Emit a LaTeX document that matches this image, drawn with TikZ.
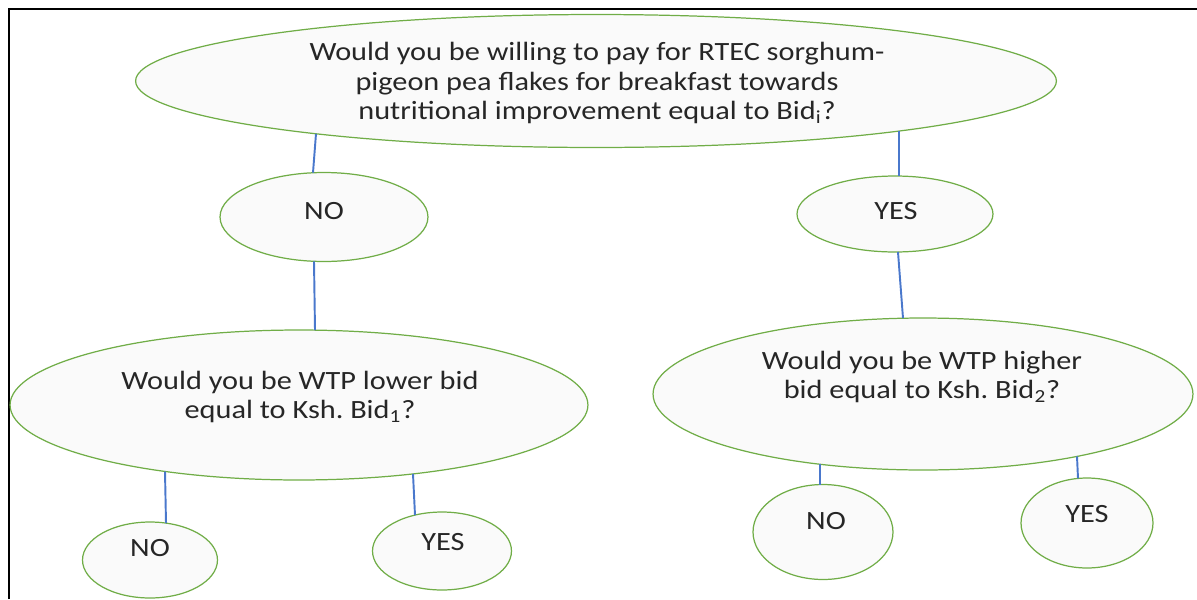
\documentclass[tikz,border=0pt]{standalone}
\usepackage{fontspec}
\setmainfont{Carlito}[FakeStretch=1.15]
\usetikzlibrary{shapes.geometric,arrows.meta,positioning,calc}
\definecolor{bubblegreen}{HTML}{70AD47}
\definecolor{linkblue}{HTML}{4A78CC}
\definecolor{bubblefill}{HTML}{FAFAFA}
\definecolor{inktext}{HTML}{262626}

\begin{document}
\begin{tikzpicture}[x=0.02cm, y=-0.02cm,
    bubble/.style={ellipse, draw=bubblegreen, fill=bubblefill, line width=0.7pt, inner sep=0pt},
    link/.style={draw=linkblue, line width=1.1pt},
    qtext/.style={font=\fontsize{15}{17}\selectfont, text=inktext, align=center, inner sep=0pt},
    frame/.style={draw=black, line width=1.6pt}]
  \useasboundingbox (0,0) rectangle (1197,599);

  % Frame
  \coordinate (frameBL) at (9,599);
  \coordinate (frameTL) at (9,9);
  \coordinate (frameTR) at (1197,9);
  \draw[frame] (frameBL) -- (frameTL) -- (frameTR);

  % First bid question
  \node[bubble, minimum width=18.42cm, minimum height=2.66cm] (top) at (596,81) {};
  \node[qtext] (topq) at (597,83) {Would you be willing to pay for RTEC sorghum-\\
    pigeon pea flakes for breakfast towards\\
    nutritional improvement equal to Bid\textsubscript{i}?};

  % First answers
  \node[bubble, minimum width=4.16cm, minimum height=1.78cm] (no1) at (324,217) {};
  \node[qtext] (no1t) at (324,211) {NO};
  \node[bubble, minimum width=3.92cm, minimum height=1.52cm] (yes1) at (895,214) {};
  \node[qtext] (yes1t) at (896,211) {YES};

  % Follow-up questions
  \node[bubble, minimum width=11.56cm, minimum height=3.0cm] (low) at (299,405) {};
  \node[qtext] (lowq) at (300,397) {Would you be WTP lower bid\\ equal to Ksh.\ Bid\textsubscript{1}?};
  \node[bubble, minimum width=10.8cm, minimum height=3.04cm] (high) at (923,394) {};
  \node[qtext] (highq) at (922,377) {Would you be WTP higher\\ bid equal to Ksh.\ Bid\textsubscript{2}?};

  % Final answers
  \node[bubble, minimum width=2.7cm, minimum height=1.52cm] (no2) at (150,560) {};
  \node[qtext] (no2t) at (150,548) {NO};
  \node[bubble, minimum width=2.78cm, minimum height=1.56cm] (yes2) at (442,551) {};
  \node[qtext] (yes2t) at (443,542) {YES};
  \node[bubble, minimum width=2.8cm, minimum height=1.9cm] (no3) at (823,532) {};
  \node[qtext] (no3t) at (826,521) {NO};
  \node[bubble, minimum width=2.64cm, minimum height=1.8cm] (yes3) at (1087,523) {};
  \node[qtext] (yes3t) at (1087,514) {YES};

  % Connectors (ends on the ellipse rims)
  \draw[link] ($(top)+(-280,52.8)$) -- ($(no1)+(-11,-44.3)$);
  \draw[link] ($(top)+(303,50.1)$) -- ($(yes1)+(4,-38)$);
  \draw[link] ($(no1)+(-10,44.3)$) -- ($(low)+(16,-74.9)$);
  \draw[link] ($(yes1)+(3,38)$) -- ($(high)+(-20,-75.8)$);
  \draw[link] ($(low)+(-134,66.5)$) -- ($(no2)+(16,-36.9)$);
  \draw[link] ($(low)+(114,68.9)$) -- ($(yes2)+(-27,-35.9)$);
  \draw[link] ($(high)+(-103,70.3)$) -- ($(no3)+(-3,-47.4)$);
  \draw[link] ($(high)+(154,62.4)$) -- ($(yes3)+(-9,-44.6)$);
\end{tikzpicture}
\end{document}
